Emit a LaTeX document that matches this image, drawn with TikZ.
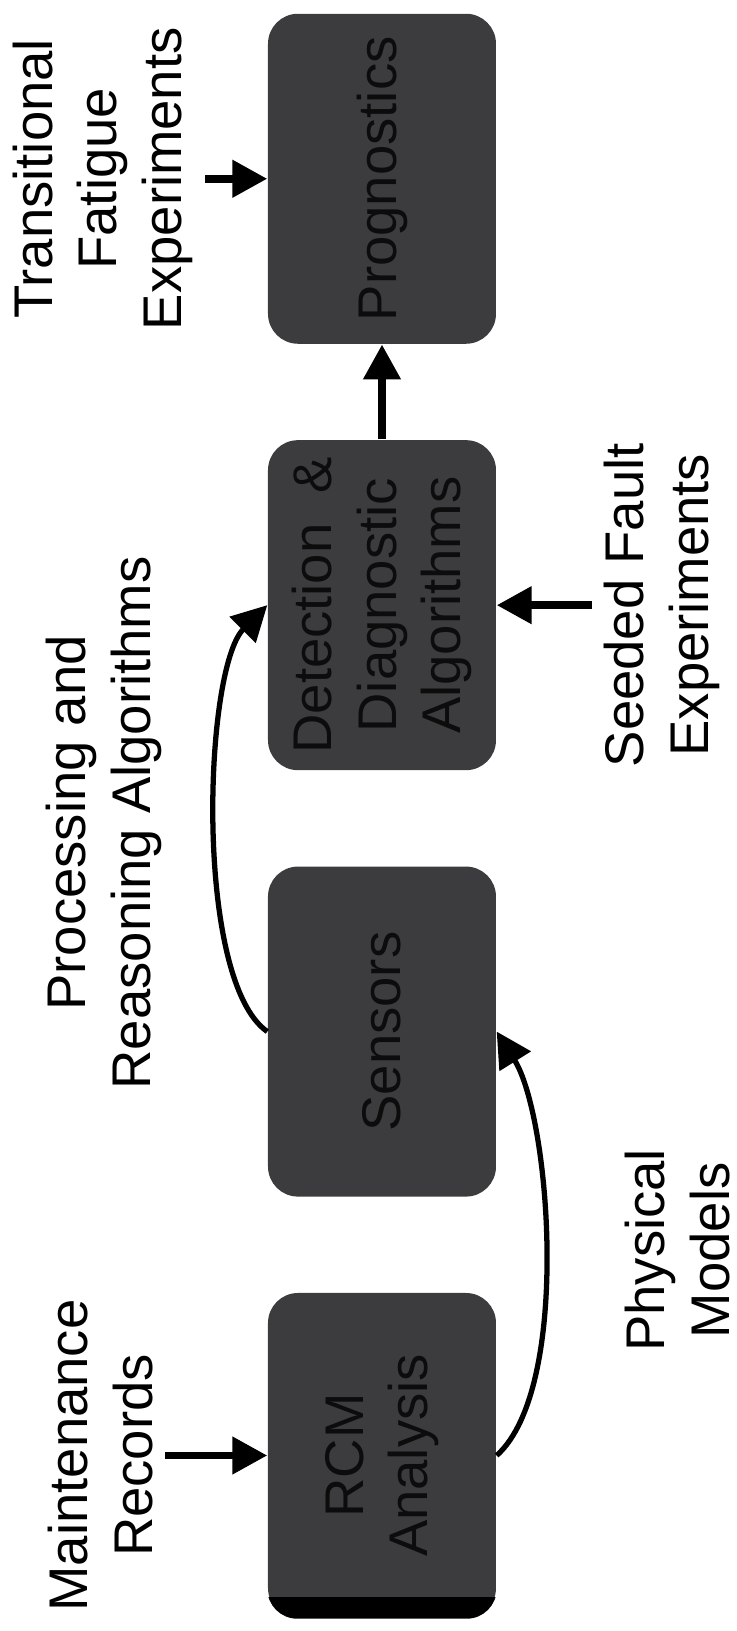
\documentclass[tikz,border=0pt]{standalone}
\usepackage{fontspec}
\setmainfont{Liberation Sans}
\usepackage{tikz}
\usetikzlibrary{positioning, arrows.meta, shapes.geometric}
\definecolor{boxgray}{RGB}{60,60,62}
\definecolor{boxtext}{RGB}{12,12,12}
\tikzset{
  block/.style={rectangle, rounded corners=0.3cm, minimum width=3.3cm, minimum height=2.28cm, align=center, fill=boxgray, text=boxtext, inner sep=0pt},
  source/.style={align=center, text=black},
  arrow/.style={line width=2.2pt, -{Triangle[length=3.5mm, width=3.6mm]}},
  curvearrow/.style={line width=1.5pt, -{Triangle[length=3.5mm, width=3.6mm]}}
}

\begin{document}
\begin{tikzpicture}[rotate=90, transform shape, node distance=0.95cm, every node/.style={font=\fontsize{15.5}{18.4}\selectfont}]
    \useasboundingbox (0,0) rectangle (16.31,7.36);
    \node (rcm) [block, minimum width=3.25cm] at (1.755,3.54) {RCM\\Analysis};
    \node (sens) [block, right=of rcm] {Sensors};
    \node (det) [block, right=of sens] {Detection \ \&\\Diagnostic\\Algorithms};
    \node (prog) [block, right=of det] {Prognostics};

    % black strip at the foot of the RCM box
    \begin{scope}
      \clip [rounded corners=0.3cm] (rcm.south west) rectangle (rcm.north east);
      \fill [black] (rcm.south west) rectangle ([xshift=0.22cm]rcm.north west);
    \end{scope}

    \node (maint) [source, above=1.02cm of rcm] {Maintenance\\Records};
    \node (trans) [source, above=0.62cm of prog] {Transitional\\Fatigue\\Experiments};
    \node (seed) [source, below=0.95cm of det] {Seeded Fault\\Experiments};

    \draw [arrow] (maint) -- (rcm);
    \draw [arrow] (trans) -- (prog);
    \draw [arrow] (seed) -- (det);
    \draw [arrow] (det) -- (prog);
    \draw [curvearrow] (rcm.south) to[out=-48, in=-148, looseness=0.61] node[below=0.66cm, source] {Physical\\Models} (sens.south);
    \draw [curvearrow] (sens.north) to[out=55, in=135, looseness=0.54] node[above=0.40cm, source] {Processing and\\Reasoning Algorithms} (det.north);
\end{tikzpicture}
\end{document}
